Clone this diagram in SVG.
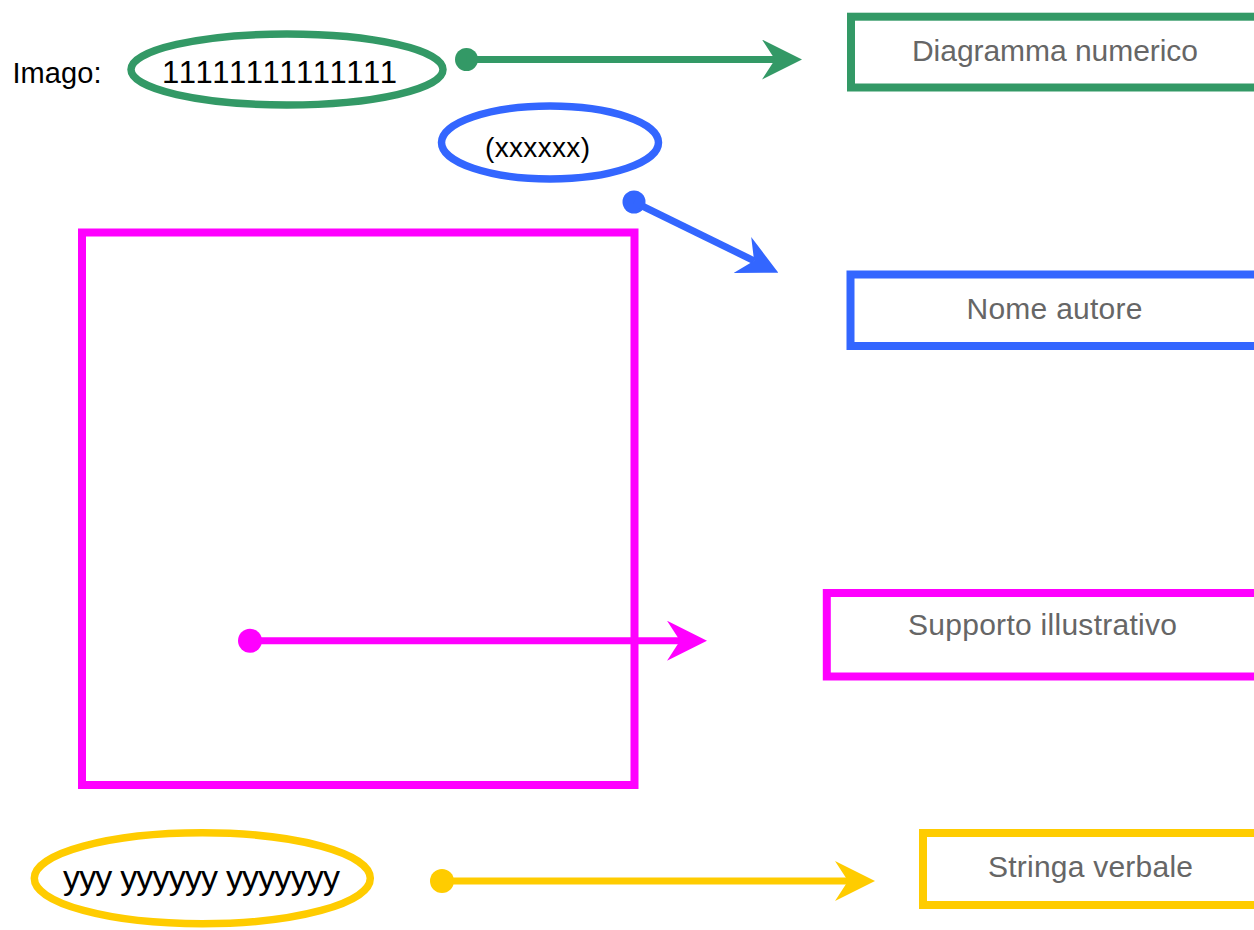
<svg xmlns="http://www.w3.org/2000/svg" width="1254" height="930" viewBox="0 0 1254 930">
  <style>
    .lbl { font-family: "Liberation Sans", Arial, sans-serif; font-size: 30px; fill: #666666; }
    .blk { font-family: "Liberation Sans", Arial, sans-serif; fill: #000000; }
    .box { fill: none; stroke-width: 8; }
    .ell { fill: none; stroke-width: 7.5; }
    .con { fill: none; stroke-width: 7; }
  </style>
  <defs>
    <marker id="arrG" markerUnits="userSpaceOnUse" viewBox="0 0 40 40" refX="13" refY="20" markerWidth="40" markerHeight="40" orient="auto">
      <path d="M0,0 L40,20 L0,40 L13,20 Z" fill="#339966"/>
    </marker>
    <marker id="arrB" markerUnits="userSpaceOnUse" viewBox="0 0 40 40" refX="13" refY="20" markerWidth="40" markerHeight="40" orient="auto">
      <path d="M0,0 L40,20 L0,40 L13,20 Z" fill="#3366ff"/>
    </marker>
    <marker id="arrM" markerUnits="userSpaceOnUse" viewBox="0 0 40 40" refX="13" refY="20" markerWidth="40" markerHeight="40" orient="auto">
      <path d="M0,0 L40,20 L0,40 L13,20 Z" fill="#ff00ff"/>
    </marker>
    <marker id="arrY" markerUnits="userSpaceOnUse" viewBox="0 0 40 40" refX="13" refY="20" markerWidth="40" markerHeight="40" orient="auto">
      <path d="M0,0 L40,20 L0,40 L13,20 Z" fill="#ffcc00"/>
    </marker>
  </defs>
  <rect width="1254" height="930" fill="#ffffff"/>

  <g id="imago-label">
    <text class="blk" x="12.5" y="83" font-size="29" textLength="89">Imago:</text>
  </g>

  <g id="numeric">
    <ellipse class="ell" cx="287" cy="69.5" rx="156" ry="35.5" stroke="#339966"/>
    <text class="blk" x="162" y="83" font-size="31" textLength="235">11111111111111</text>
  </g>

  <g id="author">
    <ellipse class="ell" cx="550" cy="142.5" rx="108.5" ry="36.5" stroke="#3366ff"/>
    <text class="blk" x="485" y="157" font-size="28" textLength="105">(xxxxxx)</text>
  </g>

  <g id="illustration">
    <rect class="box" x="82" y="232.5" width="552.5" height="552.5" stroke="#ff00ff"/>
  </g>

  <g id="verbal">
    <ellipse class="ell" cx="202.3" cy="878.3" rx="168" ry="45.5" stroke="#ffcc00"/>
    <text class="blk" x="63" y="889" font-size="34" textLength="277">yyy yyyyyy yyyyyyy</text>
  </g>

  <g id="box-diagramma">
    <rect class="box" x="851" y="16.7" width="420" height="70.8" stroke="#339966"/>
    <text class="lbl" x="912" y="61" textLength="286">Diagramma numerico</text>
  </g>

  <g id="box-nome">
    <rect class="box" x="850.5" y="274.5" width="420" height="71.5" stroke="#3366ff"/>
    <text class="lbl" x="966.5" y="319" textLength="176">Nome autore</text>
  </g>

  <g id="box-supporto">
    <rect class="box" x="826.8" y="593" width="440" height="83.5" stroke="#ff00ff"/>
    <text class="lbl" x="908" y="635" textLength="269">Supporto illustrativo</text>
  </g>

  <g id="box-stringa">
    <rect class="box" x="923" y="833" width="340" height="72" stroke="#ffcc00"/>
    <text class="lbl" x="988" y="876.5" textLength="205">Stringa verbale</text>
  </g>

  <g id="connectors">
    <circle cx="466.5" cy="59.5" r="11.5" fill="#339966"/>
    <line class="con" x1="466.5" y1="59.5" x2="775" y2="59.5" stroke="#339966" marker-end="url(#arrG)"/>

    <circle cx="634" cy="202" r="11.5" fill="#3366ff"/>
    <line class="con" x1="634" y1="202" x2="754.1" y2="260.8" stroke="#3366ff" marker-end="url(#arrB)"/>

    <circle cx="250" cy="640.7" r="12" fill="#ff00ff"/>
    <line class="con" x1="250" y1="640.7" x2="680" y2="640.7" stroke="#ff00ff" marker-end="url(#arrM)"/>

    <circle cx="442" cy="881" r="12" fill="#ffcc00"/>
    <line class="con" x1="442" y1="881" x2="848" y2="881" stroke="#ffcc00" marker-end="url(#arrY)"/>
  </g>
</svg>
